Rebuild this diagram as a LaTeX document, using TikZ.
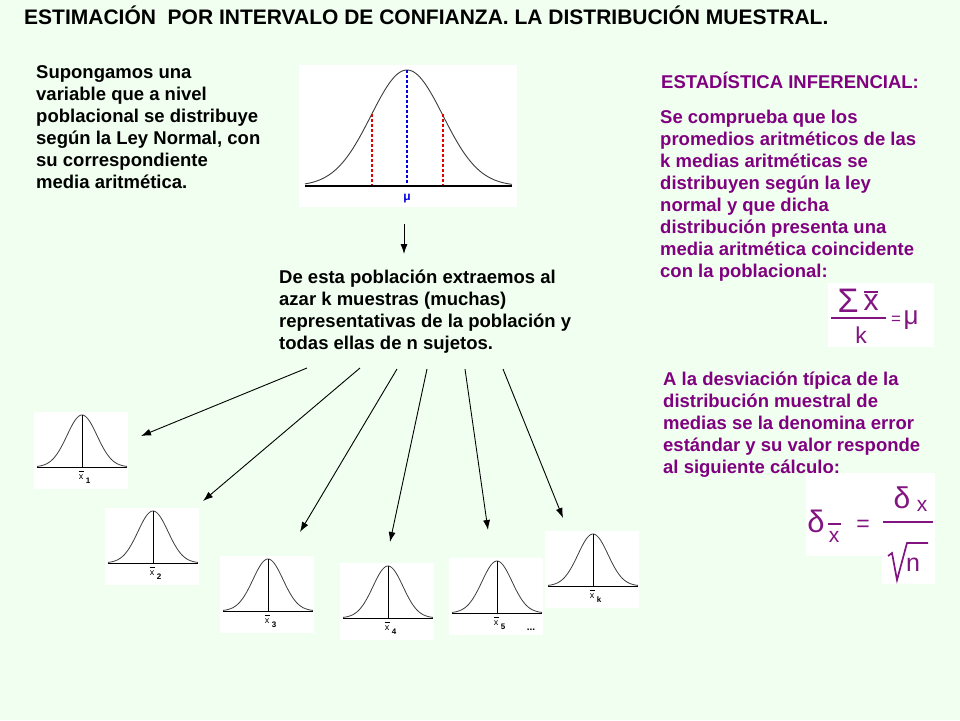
\documentclass[tikz,border=0pt]{standalone}
\usepackage{fontspec}
\setmainfont{Liberation Sans}
\usetikzlibrary{arrows.meta}
\definecolor{bg}{RGB}{240,255,240}
\definecolor{purp}{RGB}{128,0,128}
\definecolor{fpurp}{RGB}{130,20,130}
\definecolor{mublue}{RGB}{0,0,220}
\definecolor{redd}{RGB}{230,0,0}
\definecolor{curvegray}{RGB}{60,60,60}
\tikzset{
  body/.style={anchor=north west,inner sep=0pt,align=left,font=\fontsize{18.5}{22}\selectfont\bfseries},
  ptext/.style={body,text=purp},
  arr/.style={draw=black,line width=0.9pt,-{Latex[length=10pt,width=7pt]}},
  fm/.style={inner sep=0pt,text=fpurp},
  dashline/.style={line width=1.1pt,dash pattern=on 3pt off 2pt},
  smallbell/.pic={
    \fill[white] (-48,-55) rectangle (46,22);
    \draw[curvegray,line width=0.8pt] plot[domain=-45:45,samples=60,smooth] (\x,{-52*exp(-(\x/15)^2/2)});
    \draw[black,line width=0.8pt] (-45,0) -- (45,0);
    \draw[black,line width=0.8pt] (0,0) -- (0,-52);
    \node[inner sep=0pt,font=\fontsize{9}{9}\selectfont] (-x) at (-1,10) {x};
    \draw[black,line width=0.5pt] (-3.5,4.5) -- (1.5,4.5);
    \node[inner sep=0pt,font=\fontsize{8}{8}\selectfont\bfseries] (-sub) at (6,14) {#1};
  }
}
\begin{document}
\begin{tikzpicture}[x=1pt,y=-1pt]
\useasboundingbox (0,0) rectangle (960,720);
\fill[bg] (0,0) rectangle (960,720);

% title
\node[body,font=\fontsize{21}{24}\selectfont\bfseries] (title) at (24,4) {\rule{0pt}{20pt}ESTIMACIÓN\ \ POR INTERVALO DE CONFIANZA. LA DISTRIBUCIÓN MUESTRAL.};

% left text
\node[body] (left) at (36,61) {\rule{0pt}{17pt}Supongamos una\\variable que a nivel\\poblacional se distribuye\\según la Ley Normal, con\\su correspondiente\\media aritmética.};

% top bell
\fill[white] (299,65) rectangle (517,207);
\draw[curvegray,line width=0.9pt] plot[domain=305:512,samples=100,smooth] (\x,{186-116*exp(-((\x-407)/36)^2/2)});
\draw[mublue,dashline] (407,70) -- (407,186);
\draw[redd,dashline] (372,114) -- (372,186);
\draw[redd,dashline] (443,114) -- (443,186);
\draw[black,line width=1.1pt] (305,186) -- (512,186);
\node[inner sep=0pt,text=mublue,font=\fontsize{12}{12}\selectfont\bfseries] (mu) at (407,199) {μ};

\coordinate (va) at (404,224);
\coordinate (vb) at (404,254);
\draw[arr] (va) -- (vb);

% middle text
\node[body] (mid) at (279,266) {\rule{0pt}{17pt}De esta población extraemos al\\azar k muestras (muchas)\\representativas de la población y\\todas ellas de n sujetos.};

% right text
\node[ptext] (head) at (661,71) {\rule{0pt}{17pt}ESTADÍSTICA INFERENCIAL:};
\node[ptext] (right) at (660,106) {\rule{0pt}{17pt}Se comprueba que los\\promedios aritméticos de las\\k medias aritméticas se\\distribuyen según la ley\\normal y que dicha\\distribución presenta una\\media aritmética coincidente\\con la poblacional:};
\node[ptext] (right2) at (663,368) {\rule{0pt}{17pt}A la desviación típica de la\\distribución muestral de\\medias se la denomina error\\estándar y su valor responde\\al siguiente cálculo:};

% formula 1
\fill[white] (828,283) rectangle (934,347);
\node[fm,font=\fontsize{34}{34}\selectfont] (sig) at (848,301) {Σ};
\node[fm,font=\fontsize{30}{30}\selectfont] (fx) at (871,303) {x};
\draw[fpurp,line width=1.8pt] (864,292) -- (878,292);
\draw[fpurp,line width=1.4pt] (831,318) -- (886,318);
\node[fm,font=\fontsize{23}{23}\selectfont] (fk) at (861,335) {k};
\node[fm,font=\fontsize{17}{17}\selectfont] (feq) at (896,320) {=};
\node[fm,font=\fontsize{26}{26}\selectfont] (fmu) at (911,320) {μ};

% formula 2
\fill[white] (806,473) rectangle (935,556);
\fill[white] (882,556) rectangle (935,584);
\node[fm,font=\fontsize{31}{31}\selectfont] (d1) at (816,521) {δ};
\node[fm,font=\fontsize{21}{21}\selectfont] (d1x) at (834,537) {x};
\draw[fpurp,line width=1.3pt] (828,524) -- (841,524);
\node[fm,font=\fontsize{23}{23}\selectfont] (deq) at (863,526) {=};
\node[fm,font=\fontsize{30}{30}\selectfont] (d2) at (902,498) {δ};
\node[fm,font=\fontsize{21}{21}\selectfont] (d2x) at (922,506) {x};
\draw[fpurp,line width=1.5pt] (883,522) -- (933,522);
\draw[fpurp,line width=1.7pt,line join=miter] (888,556) -- (892,553) -- (897,580) -- (907,543) -- (928,543);
\node[fm,font=\fontsize{25}{25}\selectfont] (dn) at (913,565) {n};

% small bells
\pic (b1) at (82,467) {smallbell=1};
\pic (b2) at (153,563) {smallbell=2};
\pic (b3) at (268,611) {smallbell=3};
\pic (b4) at (388,618) {smallbell=4};
\pic (b5) at (497,613) {smallbell=5};
\pic (bk) at (593,586) {smallbell=k};
\node[inner sep=0pt,font=\fontsize{10}{10}\selectfont\bfseries] (dots) at (531,630) {...};

% arrows
\coordinate (s1) at (307,368); \coordinate (e1) at (141,436);
\coordinate (s2) at (360,368); \coordinate (e2) at (203,501);
\coordinate (s3) at (397,369); \coordinate (e3) at (300,532);
\coordinate (s4) at (427,369); \coordinate (e4) at (390,542);
\coordinate (s5) at (465,369); \coordinate (e5) at (488,530);
\coordinate (s6) at (503,369); \coordinate (e6) at (563,518);
\foreach \i in {1,...,6} \draw[arr] (s\i) -- (e\i);
\end{tikzpicture}
\end{document}
